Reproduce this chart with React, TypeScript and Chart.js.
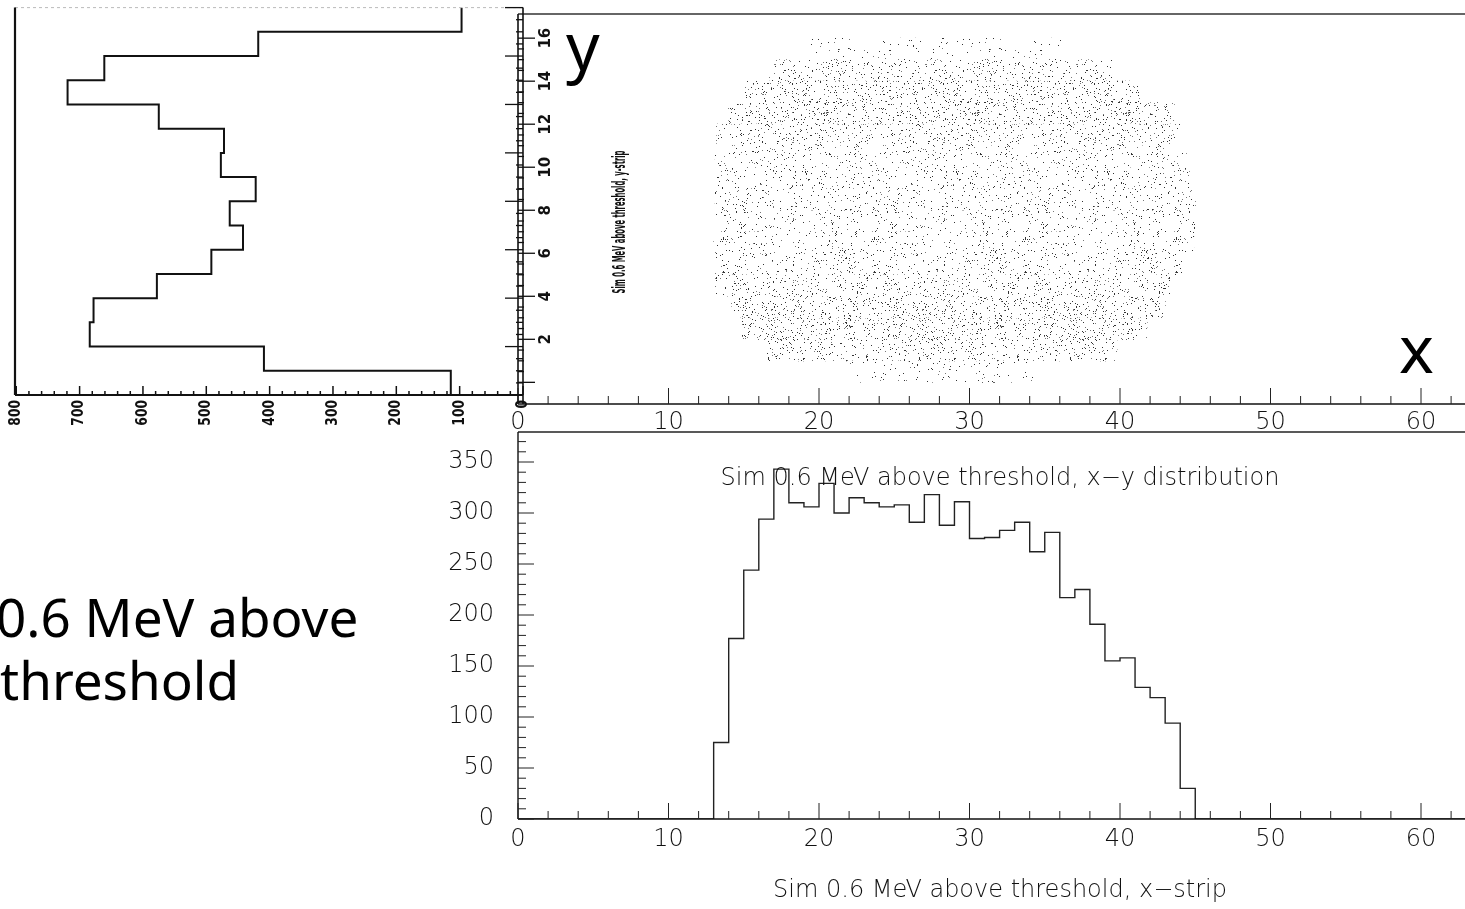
import React, { useEffect, useRef } from "react";
import { Chart, registerables } from "chart.js";
Chart.register(...registerables);

const W = 1465;
const H = 909;

// ---- y-strip histogram (left, rotated panel) ----
const yStripBins = [0, 1, 2, 3, 4, 5, 6, 7, 8, 9, 10, 11, 12, 13, 14, 15];
const yStripCounts = [114, 409, 684, 678, 578, 492, 442, 463, 422, 477, 472, 575, 719, 661, 418, 97];
const yCountTicks = [0, 100, 200, 300, 400, 500, 600, 700, 800];

// ---- x-strip histogram (bottom panel), bins 0..62 ----
const xStripCounts = [
  0, 0, 0, 0, 0, 0, 0, 0, 0, 0, 0, 0, 0,
  75, 177, 244, 294, 343, 310, 306, 329, 300, 315, 310, 306, 308, 291, 318, 288,
  311, 275, 276, 283, 291, 262, 281, 217, 225, 191, 155, 158, 129, 119, 94, 30,
  0, 0, 0, 0, 0, 0, 0, 0, 0, 0, 0, 0, 0, 0, 0, 0, 0, 0,
];
const xStripTicks = [0, 10, 20, 30, 40, 50, 60];
const xCountTicks = [0, 50, 100, 150, 200, 250, 300, 350];
const yStripTicks = [2, 4, 6, 8, 10, 12, 14, 16];

// ---- x-y scatter cloud: per y-strip row, x extent of the hits ----
const cloudRowLow = [0, 1, 2, 3, 4, 5, 6, 7, 8, 9, 10, 11, 12, 13, 14, 15];
const cloudLeft = [22.1, 16.5, 14.8, 14.2, 13.1, 13.1, 13.0, 13.1, 13.1, 13.1, 13.1, 13.2, 14.0, 15.0, 16.7, 19.3];
const cloudRight = [34.2, 39.8, 41.8, 43.0, 43.3, 44.3, 44.9, 45.0, 45.0, 44.6, 44.4, 44.0, 43.6, 41.3, 39.5, 36.1];

const ROOT_FONT = '"DejaVu Sans"';
const TILE_W = 151;
const TILE_H = 121;

// texture helper (style only): deterministic hash for dot placement inside a tile
function hash01(k: number, s: number): number {
  let h = (Math.imul(k + 1, 374761393) + Math.imul(s + 7, 668265263)) | 0;
  h = Math.imul(h ^ (h >>> 13), 1274126177);
  h = h ^ (h >>> 16);
  return (h >>> 0) / 4294967296;
}

function makeDotPattern(n: number, seed: number): CanvasPattern | string {
  const tile = document.createElement("canvas");
  tile.width = TILE_W;
  tile.height = TILE_H;
  const c = tile.getContext("2d");
  if (!c) return "rgba(0,0,0,0.1)";
  for (let k = 0; k < n; k++) {
    const x = Math.floor(hash01(k, seed * 3 + 1) * TILE_W);
    const y = Math.floor(hash01(k, seed * 3 + 2) * TILE_H);
    c.fillStyle = k % 3 === 0 ? "#777" : "#333";
    c.fillRect(x, y, 1, 1);
  }
  return c.createPattern(tile, "repeat") || "rgba(0,0,0,0.1)";
}

function seg(ctx: CanvasRenderingContext2D, x1: number, y1: number, x2: number, y2: number, w = 1, color = "#000", dash: number[] = []) {
  ctx.save();
  ctx.strokeStyle = color;
  ctx.lineWidth = w;
  ctx.setLineDash(dash);
  ctx.beginPath();
  ctx.moveTo(x1, y1);
  ctx.lineTo(x2, y2);
  ctx.stroke();
  ctx.restore();
}

function rotText(ctx: CanvasRenderingContext2D, text: string, x: number, y: number, font: string, align: CanvasTextAlign, lenScale = 1, targetLen?: number) {
  ctx.save();
  ctx.font = font;
  ctx.fillStyle = "#111";
  ctx.translate(x, y);
  ctx.rotate(-Math.PI / 2);
  let sx = lenScale;
  if (targetLen) sx = targetLen / ctx.measureText(text).width;
  ctx.scale(sx, 1);
  ctx.textAlign = align;
  ctx.textBaseline = "middle";
  ctx.fillText(text, 0, 0);
  ctx.restore();
}

const baseOpts = {
  responsive: false,
  animation: false as const,
  events: [] as any[],
  plugins: { legend: { display: false }, tooltip: { enabled: false }, title: { display: false } },
};

export default function App() {
  const leftRef = useRef<HTMLCanvasElement>(null);
  const scatRef = useRef<HTMLCanvasElement>(null);
  const botRef = useRef<HTMLCanvasElement>(null);

  useEffect(() => {
    const charts: Chart[] = [];

    // ---------- Left rotated y-strip histogram ----------
    const L = { left: 15, top: 7.6, right: 523, bottom: 395 };
    const leftPts = yStripBins.map((b, i) => ({ x: yStripCounts[i], y: b }));
    leftPts.push({ x: yStripCounts[yStripCounts.length - 1], y: yStripBins[yStripBins.length - 1] + 1 });
    const leftPlugin = {
      id: "leftAxes",
      afterDraw(chart: any) {
        const ctx = chart.ctx as CanvasRenderingContext2D;
        const xs = chart.scales.x;
        const ys = chart.scales.y;
        seg(ctx, L.left, L.top, L.right, L.top, 1, "#bbb", [3, 3]);
        seg(ctx, L.left, L.top, L.left, L.bottom, 2.2, "#111");
        seg(ctx, L.left, L.bottom, L.right, L.bottom, 2, "#111");
        seg(ctx, L.right, L.top, L.right, 404, 1.6, "#111");
        for (let v = 0; v <= 800; v += 20) {
          const px = xs.getPixelForValue(v);
          seg(ctx, px, L.bottom, px, L.bottom - (v % 100 === 0 ? 9 : 4), 1.5, "#111");
        }
        for (let s = 0; s <= 16; s += 0.5) {
          const py = ys.getPixelForValue(s);
          seg(ctx, L.right, py, L.right - (s % 2 === 0 ? 18 : 7), py, 1.3, "#111");
        }
        yCountTicks.forEach((v) => {
          rotText(ctx, String(v), xs.getPixelForValue(v), 400, `bold 15px ${ROOT_FONT}`, "right", 0.82);
        });
        // big annotation text
        ctx.save();
        ctx.fillStyle = "#000";
        ctx.font = '53px "Noto Sans"';
        ctx.textAlign = "left";
        ctx.textBaseline = "alphabetic";
        ctx.fillText("0.6 MeV above", -4, 637);
        ctx.fillText("threshold", 0, 700);
        ctx.restore();
      },
    };
    if (leftRef.current) {
      charts.push(
        new Chart(leftRef.current, {
          type: "scatter",
          data: {
            datasets: [
              {
                data: leftPts,
                showLine: true,
                stepped: "after",
                borderColor: "#111",
                borderWidth: 2,
                pointRadius: 0,
                fill: false,
              } as any,
            ],
          },
          options: {
            ...baseOpts,
            layout: { padding: { left: L.left, top: L.top, right: W - L.right, bottom: H - L.bottom } },
            scales: {
              x: { type: "linear", min: 0, max: 802, reverse: true, display: false },
              y: { type: "linear", min: 0, max: 16, display: false },
            },
          } as any,
          plugins: [leftPlugin],
        })
      );
    }

    // ---------- Scatter x-y ----------
    const S = { left: 518, top: 14, right: W, bottom: 404 };
    const patterns = cloudRowLow.map((_, i) => {
      const density = yStripCounts[i] / (cloudRight[i] - cloudLeft[i]); // hits per unit^2
      const pxPerUnit2 = 15.05 * 24.2;
      const n = Math.round((density * TILE_W * TILE_H) / pxPerUnit2);
      return makeDotPattern(n, i);
    });
    const scatPlugin = {
      id: "scatAxes",
      afterDraw(chart: any) {
        const ctx = chart.ctx as CanvasRenderingContext2D;
        const xs = chart.scales.x;
        const ys = chart.scales.y;
        seg(ctx, S.left, S.top, S.right, S.top, 1.4, "#333");
        seg(ctx, S.left, S.top, S.left, S.bottom, 1.6, "#111");
        seg(ctx, S.left, S.bottom, S.right, S.bottom, 1.4, "#111");
        for (let v = 0; v <= 62; v += 2) {
          const px = xs.getPixelForValue(v);
          seg(ctx, px, S.bottom, px, S.bottom - (v % 10 === 0 ? 16 : 8), 1, "#222");
        }
        for (let s = 0; s <= 16; s += 0.5) {
          const py = ys.getPixelForValue(s);
          seg(ctx, S.left, py, S.left + (s % 2 === 0 ? 17 : 6), py, 1.3, "#111");
        }
        ctx.save();
        ctx.fillStyle = "#111";
        ctx.font = `200 24px ${ROOT_FONT}`;
        ctx.textAlign = "center";
        ctx.textBaseline = "middle";
        xStripTicks.forEach((v) => ctx.fillText(String(v), xs.getPixelForValue(v), 423));
        ctx.restore();
        yStripTicks.forEach((v) => {
          rotText(ctx, String(v), 546, ys.getPixelForValue(v), `bold 15px ${ROOT_FONT}`, "center", 1);
        });
        rotText(ctx, "Sim 0.6 MeV above threshold, y-strip", 620, 222, `bold 18px ${ROOT_FONT}`, "center", 1, 143);
        ctx.save();
        ctx.fillStyle = "#000";
        ctx.font = '66px "Noto Sans"';
        ctx.textBaseline = "alphabetic";
        ctx.fillText("y", 566, 70);
        ctx.fillText("x", 1399, 373);
        ctx.restore();
      },
    };
    if (scatRef.current) {
      charts.push(
        new Chart(scatRef.current, {
          type: "bar",
          data: {
            datasets: [
              {
                data: cloudRowLow.map((r, i) => ({ y: r + 0.5, x: [cloudLeft[i], cloudRight[i]] })),
                backgroundColor: patterns as any,
                borderWidth: 0,
                barPercentage: 1,
                categoryPercentage: 1,
              } as any,
            ],
          },
          options: {
            ...baseOpts,
            indexAxis: "y",
            layout: { padding: { left: S.left, top: S.top, right: W - S.right, bottom: H - S.bottom } },
            scales: {
              x: { type: "linear", min: 0, max: (S.right - S.left) / 15.05, display: false },
              y: { type: "linear", min: 0, max: (S.bottom - S.top) / 24.2, display: false },
            },
          } as any,
          plugins: [scatPlugin],
        })
      );
    }

    // ---------- Bottom x-strip histogram ----------
    const B = { left: 518, top: 432, right: W, bottom: 819 };
    const botPts = xStripCounts.map((c, i) => ({ x: i, y: c }));
    botPts.push({ x: xStripCounts.length, y: xStripCounts[xStripCounts.length - 1] });
    const botPlugin = {
      id: "botAxes",
      afterDraw(chart: any) {
        const ctx = chart.ctx as CanvasRenderingContext2D;
        const xs = chart.scales.x;
        const ys = chart.scales.y;
        seg(ctx, B.left, B.top, B.right, B.top, 1.4, "#222");
        seg(ctx, B.left, B.top, B.left, B.bottom, 1.4, "#111");
        seg(ctx, B.left, B.bottom, B.right, B.bottom, 1.4, "#111");
        for (let v = 0; v <= 62; v += 2) {
          const px = xs.getPixelForValue(v);
          seg(ctx, px, B.bottom, px, B.bottom - (v % 10 === 0 ? 16 : 8), 1, "#222");
        }
        for (let v = 0; v <= 370; v += 10) {
          const py = ys.getPixelForValue(v);
          seg(ctx, B.left, py, B.left + (v % 50 === 0 ? 16 : 8), py, 1, "#222");
        }
        ctx.save();
        ctx.fillStyle = "#111";
        ctx.font = `200 24px ${ROOT_FONT}`;
        ctx.textBaseline = "middle";
        ctx.textAlign = "center";
        xStripTicks.forEach((v) => ctx.fillText(String(v), xs.getPixelForValue(v), 840));
        ctx.textAlign = "right";
        xCountTicks.forEach((v) => ctx.fillText(String(v), 494, ys.getPixelForValue(v)));
        ctx.textAlign = "center";
        ctx.fillText("Sim 0.6 MeV above threshold, x\u2212y distribution", 1000, 479);
        ctx.fillText("Sim 0.6 MeV above threshold, x\u2212strip", 1000, 891);
        ctx.restore();
      },
    };
    if (botRef.current) {
      charts.push(
        new Chart(botRef.current, {
          type: "scatter",
          data: {
            datasets: [
              {
                data: botPts,
                showLine: true,
                stepped: true,
                borderColor: "#222",
                borderWidth: 1.4,
                pointRadius: 0,
                fill: false,
              } as any,
            ],
          },
          options: {
            ...baseOpts,
            layout: { padding: { left: B.left, top: B.top, right: W - B.right, bottom: H - B.bottom } },
            scales: {
              x: { type: "linear", min: 0, max: (B.right - B.left) / 15.05, display: false },
              y: { type: "linear", min: 0, max: (B.bottom - B.top) / 1.02, display: false },
            },
          } as any,
          plugins: [botPlugin],
        })
      );
    }

    return () => charts.forEach((c) => c.destroy());
  }, []);

  const cstyle: React.CSSProperties = { position: "absolute", left: 0, top: 0, width: W, height: H };
  return (
    <div style={{ position: "absolute", left: 0, top: 0, width: W, height: H, background: "#fff", overflow: "hidden" }}>
      <canvas ref={scatRef} width={W} height={H} style={cstyle} />
      <canvas ref={botRef} width={W} height={H} style={cstyle} />
      <canvas ref={leftRef} width={W} height={H} style={cstyle} />
    </div>
  );
}
